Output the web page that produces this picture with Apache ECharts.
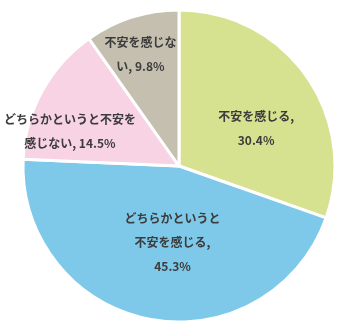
<!DOCTYPE html>
<html><head><meta charset="utf-8">
<script src="https://cdn.jsdelivr.net/npm/echarts@6/dist/echarts.min.js"></script>
<style>html,body{margin:0;padding:0;background:#fff}#c{width:343px;height:333px}</style>
</head><body><div id="c"></div>
<script>
var categories = ['不安を感じる', 'どちらかというと不安を感じる', 'どちらかというと不安を感じない', '不安を感じない'];
var values = [30.4, 45.3, 14.5, 9.8];
var labelTexts = ['不安を感じる,\n30.4%', 'どちらかというと\n不安を感じる,\n45.3%', 'どちらかというと不安を\n感じない, 14.5%', '不安を感じな\nい, 9.8%'];
var colors = ['#d7e290', '#7ec9ea', '#f7d3e3', '#c4bfaf'];
var labelOffsets = [[11, 9], [9, -3], [-38, 4], [-14, -34]];

var data = categories.map(function (c, i) {
  return {
    name: c, value: values[i],
    itemStyle: { color: colors[i] },
    label: { formatter: labelTexts[i], offset: labelOffsets[i] }
  };
});
var chart = echarts.init(document.getElementById('c'));
chart.setOption({
  animation: false,
  series: [{
    type: 'pie',
    center: [179, 166],
    radius: [0, 156],
    startAngle: 90,
    clockwise: true,
    data: data,
    itemStyle: { borderColor: '#ffffff', borderWidth: 3 },
    label: {
      show: true, position: 'inside',
      fontFamily: 'Noto Sans CJK JP', fontSize: 12, fontWeight: 'bold',
      color: '#3c3c3c', lineHeight: 24, align: 'center'
    },
    labelLine: { show: false },
    emphasis: { disabled: true }
  }]
});
</script></body></html>
